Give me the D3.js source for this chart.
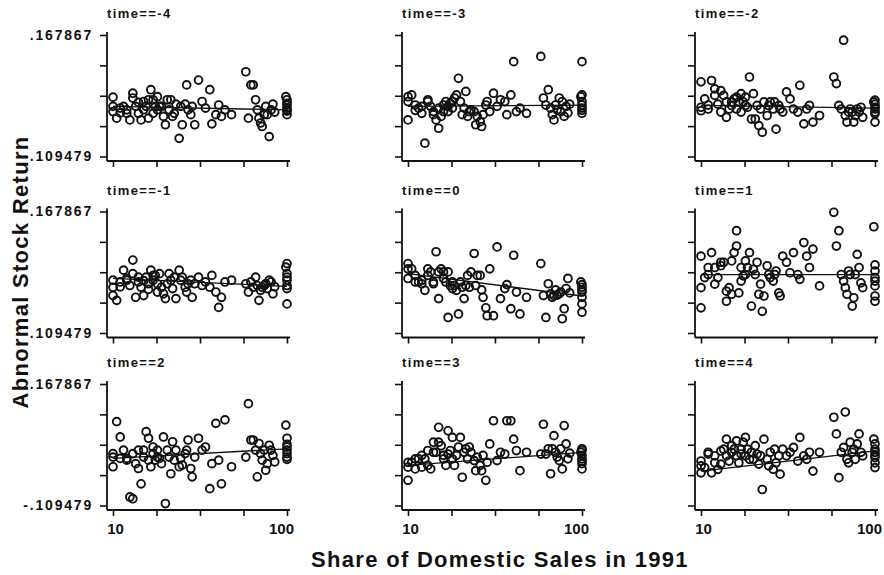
<!DOCTYPE html>
<html>
<head>
<meta charset="utf-8">
<script src="https://cdn.jsdelivr.net/npm/d3@7"></script>
<style>
  body { margin: 0; background: #fff; }
  text { font-family: "Liberation Sans", Arial, sans-serif; font-weight: bold; fill: #111; }
</style>
</head>
<body>
<div id="chart"></div>
<script>
// panel keys
const times = [-4, -3, -2, -1, 0, 1, 2, 3, 4];

// share of domestic sales in 1991 (same firms in every panel)
const shares = [10,10,10,10.5,11,11,11.5,12,12,12.5,
  13,13,13.5,14,14,14.5,15,15,15.5,16,
  16,16.5,17,17,17.5,18,18,18.5,19,19.5,
  20,20.5,21,21.5,22,22.5,23,24,24.5,25,
  26,26.5,27,28,28.5,29.5,31,32.5,34,36,
  37,39,40.5,42,44,48,58,60,62,64,
  66,67.5,69,70.5,72,74,75.5,77,79,81,
  83,85,98.5,100,100,100,100,100,100,100];

// abnormal stock return per firm, one list per time
const retM4 = [.026,.005,-.007,-.022,.001,-.010,.005,-.011,-.003,-.026,
  .035,.024,.005,.014,-.011,-.026,-.003,.016,.005,-.022,
  .020,.043,-.011,.020,.005,.027,-.003,.005,.005,-.018,
  -.037,.020,-.003,.020,-.018,-.011,.010,-.068,.005,-.037,
  .010,.054,-.003,-.014,.005,-.037,.065,.016,.001,.043,
  -.035,-.014,.008,-.018,-.003,-.014,.084,-.022,.054,.054,
  .020,-.003,-.022,-.033,-.041,-.014,.005,-.014,-.064,-.003,
  .010,-.008,.027,.012,.001,-.014,-.003,.020,.008,-.006];
const retM3 = [.027,.016,-.026,.031,.008,-.004,.001,-.011,.005,-.079,
  .016,.020,.005,-.007,-.014,-.026,-.045,.001,-.018,-.007,
  .008,.016,.005,-.007,.012,.001,.016,.024,.031,.069,
  .016,-.014,.001,.039,-.018,-.007,-.003,-.007,-.037,-.018,
  -.030,-.041,-.014,.008,.016,-.007,.035,.005,.020,.016,
  -.014,.031,.107,-.007,.001,-.011,.119,.024,.008,.043,
  .001,-.014,-.026,.008,-.003,.024,-.007,.016,-.018,.005,
  -.010,.010,.027,.107,.016,.001,-.011,.031,.008,-.004];
const retM2 = [.061,-.005,.003,.022,-.001,.008,.064,.045,.030,.010,
  -.008,.041,.030,.015,-.020,-.001,.015,.007,.022,.026,
  -.001,.015,-.008,.034,.015,.026,.007,.003,.072,-.024,
  .034,-.024,.007,-.039,-.001,-.054,.015,-.016,.007,.015,
  -.001,.015,-.047,.007,-.001,-.008,.038,.022,-.001,-.008,
  .053,-.035,-.001,.007,-.031,-.016,.072,.057,.007,-.001,
  .156,-.016,-.031,-.008,-.001,-.008,-.031,-.016,-.001,-.008,
  .003,-.020,.015,.003,-.008,-.031,-.001,.010,.019,-.012];
const retM1 = [.011,-.005,-.024,-.035,.007,-.004,.034,.015,.011,-.001,
  .057,.026,-.028,.007,.018,-.005,-.024,.010,.018,.003,
  -.010,.034,.011,.022,.022,-.016,.003,.026,-.005,-.020,
  -.031,.003,.026,.011,-.008,.018,-.031,.034,.011,.018,
  -.005,-.016,.003,.011,-.028,.003,.018,-.001,.007,-.005,
  .022,-.016,-.051,-.028,.007,.011,.003,-.016,.007,-.005,
  .018,-.001,-.035,-.012,-.005,-.001,.003,-.008,.011,.007,
  -.020,-.004,.041,.026,.011,-.001,-.008,-.043,.049,.018];
const ret0 = [.037,.049,.015,.037,.007,.022,.007,.011,.003,-.012,
  .037,.022,.030,.003,.007,.076,.030,-.031,.037,.015,
  .030,.007,.030,-.074,-.001,-.008,.007,-.001,-.012,-.066,
  .007,-.005,-.031,-.001,.022,-.005,.030,.072,-.001,.022,
  .022,-.011,-.028,-.052,-.070,.037,-.070,.087,-.031,-.008,
  .001,-.054,.068,-.016,-.066,-.028,.049,-.024,-.074,.003,
  -.020,-.028,-.024,-.011,-.023,-.020,-.016,-.077,-.054,-.008,
  .015,-.018,.007,-.005,-.016,-.028,-.043,-.062,.001,-.011];
const ret1 = [.066,-.006,-.052,.017,.024,.040,.074,.002,.040,.017,
  .052,.044,.052,-.014,-.037,-.006,-.021,.055,.074,.089,
  .124,-.018,.009,.040,.021,.055,.024,.040,.074,-.048,
  .036,.024,.052,-.021,.002,-.060,-.025,.044,.024,.017,
  .009,.024,.032,-.018,-.025,.066,.052,.028,.074,.024,
  .013,.097,.066,.040,.082,-.002,.166,.089,.124,.024,
  .009,-.006,-.021,.032,.024,-.048,-.029,.024,.070,.040,
  .005,-.006,.133,.032,.017,-.002,-.025,-.037,.009,.046];
const ret2 = [.009,-.021,.001,.082,-.002,.047,.017,-.002,-.006,-.090,
  -.094,.009,-.014,-.025,.017,-.060,.017,.001,.059,.044,
  -.006,-.021,.024,.009,-.006,.017,.001,-.002,-.014,.047,
  -.105,.017,.001,-.037,.036,-.006,.017,-.021,-.002,-.017,
  .009,.017,.040,-.025,-.044,.001,.044,.017,.024,-.071,
  -.014,.078,-.006,-.060,.086,-.021,.001,.123,.040,.040,
  .017,-.044,.032,.009,-.006,.017,-.029,-.014,.028,.017,
  .005,-.010,.074,.044,.024,.017,.001,.009,-.004,.030];
const ret3 = [-.011,-.022,-.052,-.011,-.003,-.026,-.003,-.022,.005,-.003,
  .016,-.018,-.026,.035,.012,.012,.035,.069,.027,.005,
  -.003,-.018,.061,.008,.016,.046,-.003,-.018,.005,.024,
  .046,-.045,.012,.020,-.003,.024,.012,-.007,-.030,.001,
  -.018,-.030,.005,-.052,-.011,.031,.084,-.007,.012,.008,
  .084,.084,.042,.016,-.030,.012,.008,.076,.008,.020,
  -.037,.020,.050,.012,.001,-.007,.020,-.026,.073,.031,
  -.003,.010,.012,-.003,-.014,-.026,.005,.020,-.008,.016];
const ret4 = [-.035,-.019,-.008,-.023,.012,.008,-.035,-.012,.004,-.027,
  .015,-.015,.019,.042,.004,-.008,.027,.012,.019,.038,
  .004,-.012,.019,.008,.035,.004,.046,.019,-.004,.012,
  -.004,.027,.008,-.015,.004,-.073,.042,-.004,-.019,.012,
  -.027,.019,-.012,.004,-.038,.019,.004,.012,.023,-.008,
  .046,.004,-.004,.012,-.031,.012,.092,.054,-.046,.012,
  .023,.104,-.004,-.012,.035,.012,.019,-.004,.031,.054,
  .012,.004,.042,.031,.012,.000,-.012,-.023,.019,.006];
const returns = [retM4, retM3, retM2, retM1, ret0, ret1, ret2, ret3, ret4];

// fitted line, value at share 10 and at share 100
const fitAt10  = [.005, .005, .007, .015, .026, .024, -.002, -.018, -.031];
const fitAt100 = [-.003, .008, .001, -.003, -.025, .024, .020, .012, .015];

// axes
const yDomain = [-0.109479, 0.167867];
const yTicks = [-0.109479, -0.040143, 0.029194, 0.09853, 0.167867];
const yTickLabels = ['-.109479', '', '', '', '.167867'];
const xTicks = [10, 17.78, 31.62, 56.23, 100];
const xTickLabels = ['10', '', '', '', '100'];

const width = 884, height = 575;
const colX = [107, 402, 695];
const rowTop = [35, 211.5, 384];
const plotH = 121.5;

const svg = d3.select('#chart').append('svg')
  .attr('width', width)
  .attr('height', height)
  .style('background', '#fff');

times.forEach((t, i) => {
  const row = Math.floor(i / 3), col = i % 3;
  const x0 = colX[col], y0 = rowTop[row];
  const axisY = y0 + plotH + 4.5;

  const x = d3.scaleLog().domain([10, 100]).range([x0 + 6, x0 + 180]);
  const y = d3.scaleLinear().domain(yDomain).range([y0 + plotH, y0]);

  const g = svg.append('g');

  // axis lines
  g.append('line')
    .attr('x1', x0).attr('x2', x0)
    .attr('y1', y0 - 3).attr('y2', axisY)
    .attr('stroke', '#111').attr('stroke-width', 1.8);
  g.append('line')
    .attr('x1', x0).attr('x2', x0 + 183)
    .attr('y1', axisY).attr('y2', axisY)
    .attr('stroke', '#111').attr('stroke-width', 1.8);

  const yAxis = g.append('g')
    .attr('transform', `translate(${x0},0)`)
    .call(d3.axisLeft(y).tickValues(yTicks).tickSize(7).tickPadding(7)
      .tickFormat((d, k) => col === 0 ? yTickLabels[k] : ''));
  yAxis.select('.domain').remove();
  yAxis.selectAll('line').attr('stroke', '#111').attr('stroke-width', 1.6);
  yAxis.selectAll('text')
    .attr('font-size', 14).attr('font-family', null)
    .style('letter-spacing', '1.8px');

  const xAxis = g.append('g')
    .attr('transform', `translate(0,${axisY})`)
    .call(d3.axisBottom(x).tickValues(xTicks).tickSize(6).tickPadding(7)
      .tickFormat((d, k) => row === 2 ? xTickLabels[k] : ''));
  xAxis.select('.domain').remove();
  xAxis.selectAll('line').attr('stroke', '#111').attr('stroke-width', 1.6);
  xAxis.selectAll('text')
    .attr('font-size', 15).attr('font-family', null)
    .attr('dx', d => d === 100 ? -6 : 2);

  // panel title
  g.append('text')
    .attr('x', x0)
    .attr('y', y0 - 17)
    .attr('font-size', 13)
    .style('letter-spacing', '1.4px')
    .text('time==' + t);

  // fitted line
  g.append('line')
    .attr('x1', x(10)).attr('y1', y(fitAt10[i]))
    .attr('x2', x(100)).attr('y2', y(fitAt100[i]))
    .attr('stroke', '#111').attr('stroke-width', 1.3);

  const pts = shares.map((s, k) => ({ s: s, r: returns[i][k] }));
  g.selectAll('circle').data(pts).enter()
    .append('circle')
      .attr('cx', d => x(d.s))
      .attr('cy', d => y(d.r))
      .attr('r', 3.9)
      .attr('fill', 'none')
      .attr('stroke', '#111')
      .attr('stroke-width', 1.9);
});

svg.append('text')
  .attr('transform', 'translate(28,272) rotate(-90)')
  .attr('text-anchor', 'middle')
  .attr('font-size', 22)
  .style('letter-spacing', '1.3px')
  .text('Abnormal Stock Return');

svg.append('text')
  .attr('x', 500)
  .attr('y', 567)
  .attr('text-anchor', 'middle')
  .attr('font-size', 22)
  .style('letter-spacing', '1.3px')
  .text('Share of Domestic Sales in 1991');
</script>
</body>
</html>
